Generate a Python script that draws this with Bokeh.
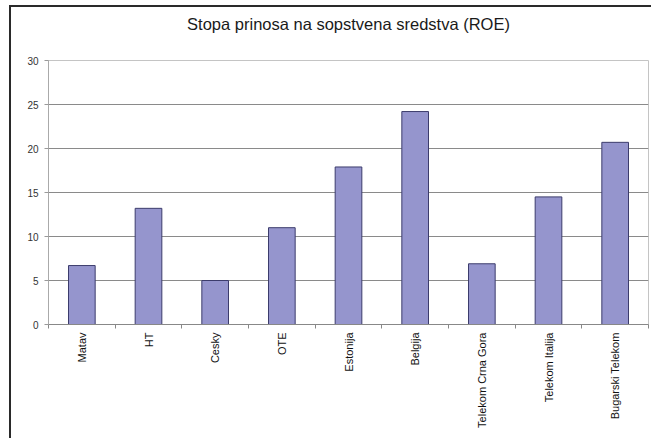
from bokeh.plotting import figure
from bokeh.models import FixedTicker, Range1d
from bokeh.embed import file_html
from bokeh.resources import INLINE

categories = ["Matav", "HT", "Cesky", "OTE", "Estonija", "Belgija",
              "Telekom Crna Gora", "Telekom Italija", "Bugarski Telekom"]
roe = [6.7, 13.2, 5.0, 11.0, 17.9, 24.2, 6.9, 14.5, 20.7]
y_ticks = [0, 5, 10, 15, 20, 25, 30]
title_text = "Stopa prinosa na sopstvena sredstva (ROE)"

n = len(categories)
xs = [i + 0.5 for i in range(n)]

p = figure(width=642, height=454, output_backend="svg", toolbar_location=None,
           x_range=Range1d(0, n), y_range=Range1d(0, 30),
           min_border_left=39, min_border_right=3, min_border_top=0,
           min_border_bottom=114, title=title_text)
# outer chart frame (top and left edges), drawn behind a transparent canvas border
p.styles = {
    "margin-left": "9px",
    "margin-top": "-16px",
    "background-image": "linear-gradient(#2a2a2a, #2a2a2a), linear-gradient(#2a2a2a, #2a2a2a)",
    "background-repeat": "no-repeat, no-repeat",
    "background-position": "0px 21px, 0px 21px",
    "background-size": "100% 2px, 2px 100%",
}
p.background_fill_color = "white"
p.border_fill_alpha = 0
p.outline_line_color = "#c4c4c4"

p.title.align = "center"
p.title.offset = -23
p.title.standoff = 56
p.title.text_font = "Liberation Sans"
p.title.text_font_size = "16.5px"
p.title.text_font_style = "normal"
p.title.text_color = "#1a1a1a"

p.vbar(x=xs, top=roe, width=0.4, bottom=0,
       fill_color="#9595cd", line_color="#3c3c6c", line_width=1)

# x axis
p.xaxis.ticker = FixedTicker(ticks=xs, minor_ticks=list(range(n + 1)))
p.xaxis.major_label_overrides = {x: c for x, c in zip(xs, categories)}
p.xaxis.major_label_orientation = 1.5707963267948966
p.xaxis.major_tick_line_color = None
p.xaxis.major_tick_out = 4
p.xaxis.major_tick_in = 0
p.xaxis.minor_tick_out = 4
p.xaxis.minor_tick_in = 0
p.xaxis.minor_tick_line_color = "#888888"
p.xaxis.major_label_standoff = 4
p.xaxis.major_label_text_font = "Liberation Sans"
p.xaxis.major_label_text_font_size = "11px"
p.xaxis.major_label_text_color = "#111111"
p.xaxis.axis_line_color = "#888888"

# y axis
p.yaxis.ticker = FixedTicker(ticks=y_ticks)
p.yaxis.major_tick_out = 4
p.yaxis.major_tick_in = 0
p.yaxis.minor_tick_line_color = None
p.yaxis.major_tick_line_color = "#999999"
p.yaxis.major_label_standoff = 6
p.yaxis.major_label_text_font = "Liberation Sans"
p.yaxis.major_label_text_font_size = "10px"
p.yaxis.major_label_text_color = "#333333"
p.yaxis.axis_line_color = "#aaaaaa"

p.xgrid.grid_line_color = None
p.ygrid.grid_line_color = "#8a8a8a"
p.ygrid.ticker = FixedTicker(ticks=y_ticks[1:])

open("out.html", "w").write(file_html(p, INLINE))
